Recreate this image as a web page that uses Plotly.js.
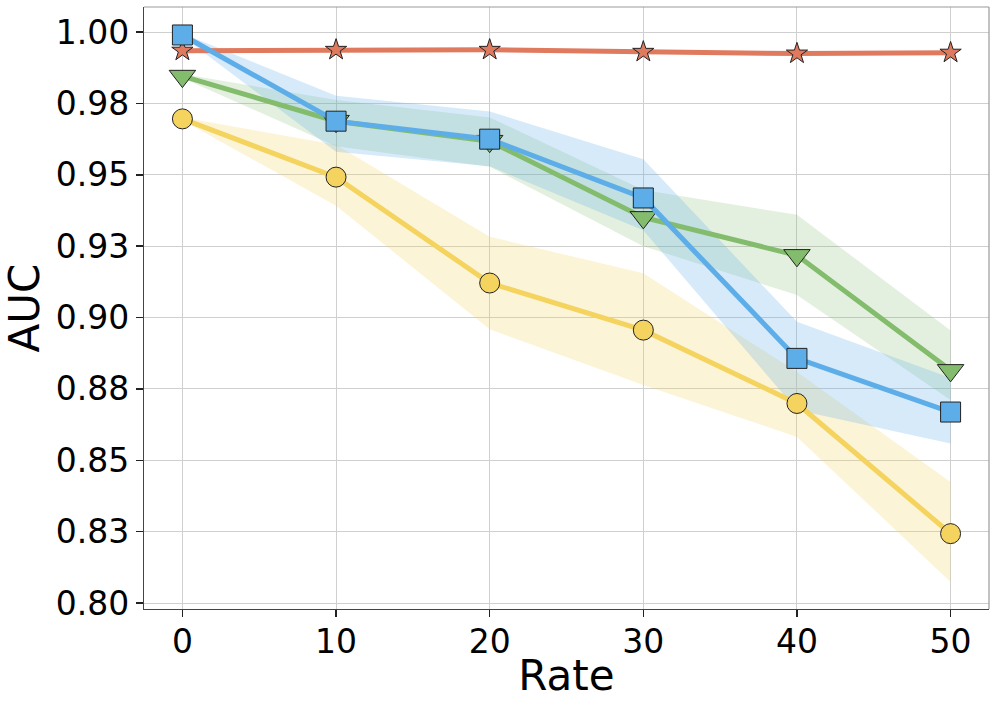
<!DOCTYPE html>
<html>
<head>
<meta charset="utf-8">
<script src="https://cdn.plot.ly/plotly-3.0.1.min.js"></script>
<style>html,body{margin:0;padding:0;background:#fff;}#chart{width:997px;height:708px;}</style>
</head>
<body>
<div id="chart"></div>
<script>
const rate = [0, 10, 20, 30, 40, 50];

const redMean    = [0.9935, 0.9938, 0.9938, 0.9931, 0.9925, 0.9928];

const blueMean   = [0.9990, 0.9688, 0.9625, 0.9419, 0.8857, 0.8669];
const blueUpper  = [0.9995, 0.9777, 0.9722, 0.9555, 0.8985, 0.8788];
const blueLower  = [0.9985, 0.9581, 0.9530, 0.9306, 0.8676, 0.8559];

const greenMean  = [0.9846, 0.9688, 0.9618, 0.9351, 0.9218, 0.8815];
const greenUpper = [0.9853, 0.9762, 0.9701, 0.9447, 0.9360, 0.8955];
const greenLower = [0.9839, 0.9600, 0.9528, 0.9250, 0.9079, 0.8711];

const yellowMean  = [0.9696, 0.9492, 0.9121, 0.8956, 0.8699, 0.8243];
const yellowUpper = [0.9701, 0.9605, 0.9283, 0.9155, 0.8809, 0.8424];
const yellowLower = [0.9691, 0.9392, 0.8959, 0.8764, 0.8582, 0.8074];

const yTickVals = [0.800, 0.825, 0.850, 0.875, 0.900, 0.925, 0.950, 0.975, 1.000];
const yTickText = ["0.80", "0.83", "0.85", "0.88", "0.90", "0.93", "0.95", "0.98", "1.00"];
const xTickVals = [0, 10, 20, 30, 40, 50];

const RED = '#E07A5F', BLUE = '#5DADE9', GREEN = '#82BC6C', YELLOW = '#F4D35E';

function band(lower, upper, color) {
  return [
    {x: rate, y: lower, mode: 'lines', line: {width: 0, color: color}, hoverinfo: 'skip', showlegend: false},
    {x: rate, y: upper, mode: 'lines', line: {width: 0, color: color}, fill: 'tonexty', fillcolor: color, hoverinfo: 'skip', showlegend: false}
  ];
}
function rgba(hex, a) {
  const n = parseInt(hex.slice(1), 16);
  return 'rgba(' + ((n >> 16) & 255) + ',' + ((n >> 8) & 255) + ',' + (n & 255) + ',' + a + ')';
}
function line(y, color, symbol, size) {
  return {x: rate, y: y, mode: 'lines+markers', showlegend: false,
    line: {color: color, width: 5},
    marker: {symbol: symbol, size: size, color: color, line: {color: '#222', width: 1}}};
}

const data = [].concat(
  band(yellowLower, yellowUpper, rgba(YELLOW, 0.25)),
  band(greenLower, greenUpper, rgba(GREEN, 0.22)),
  band(blueLower, blueUpper, rgba(BLUE, 0.25)),
  [line(redMean, RED, 'star', 16),
   line(yellowMean, YELLOW, 'circle', 20),
   line(greenMean, GREEN, 'triangle-down', 23),
   line(blueMean, BLUE, 'square', 20)]
);

const font = {family: 'DejaVu Sans, sans-serif', color: '#000'};
const layout = {
  width: 997, height: 708,
  margin: {l: 144, r: 8, t: 7, b: 99},
  paper_bgcolor: '#fff', plot_bgcolor: '#fff',
  font: font,
  xaxis: {
    range: [-2.5, 52.5], tickvals: xTickVals, ticks: 'outside', ticklen: 7, tickwidth: 1.5, tickcolor: '#222',
    ticklabelstandoff: -4,
    showline: true, linecolor: '#444', linewidth: 1.2, mirror: false,
    showgrid: true, gridcolor: '#cfcfcf', gridwidth: 1, zeroline: false,
    tickfont: {family: font.family, size: 33, color: '#000'},
    title: {text: 'Rate', font: {family: font.family, size: 42, color: '#000'}, standoff: 0},
    automargin: false
  },
  yaxis: {
    range: [0.7979, 1.0088], tickvals: yTickVals, ticktext: yTickText, ticks: 'outside', ticklen: 7, tickwidth: 1.5, tickcolor: '#222',
    showline: true, linecolor: '#444', linewidth: 1.2, mirror: false,
    showgrid: true, gridcolor: '#cfcfcf', gridwidth: 1, zeroline: false,
    tickfont: {family: font.family, size: 33, color: '#000'},
    title: {text: 'AUC', font: {family: font.family, size: 42, color: '#000'}, standoff: 12},
    automargin: false
  },
  shapes: [
    {type: 'line', xref: 'paper', yref: 'paper', x0: 0, x1: 1, y0: 1, y1: 1, line: {color: '#999', width: 1.2}},
    {type: 'line', xref: 'paper', yref: 'paper', x0: 1, x1: 1, y0: 0, y1: 1, line: {color: '#999', width: 1.2}}
  ]
};

Plotly.newPlot('chart', data, layout, {displayModeBar: false, staticPlot: true});
</script>
</body>
</html>
